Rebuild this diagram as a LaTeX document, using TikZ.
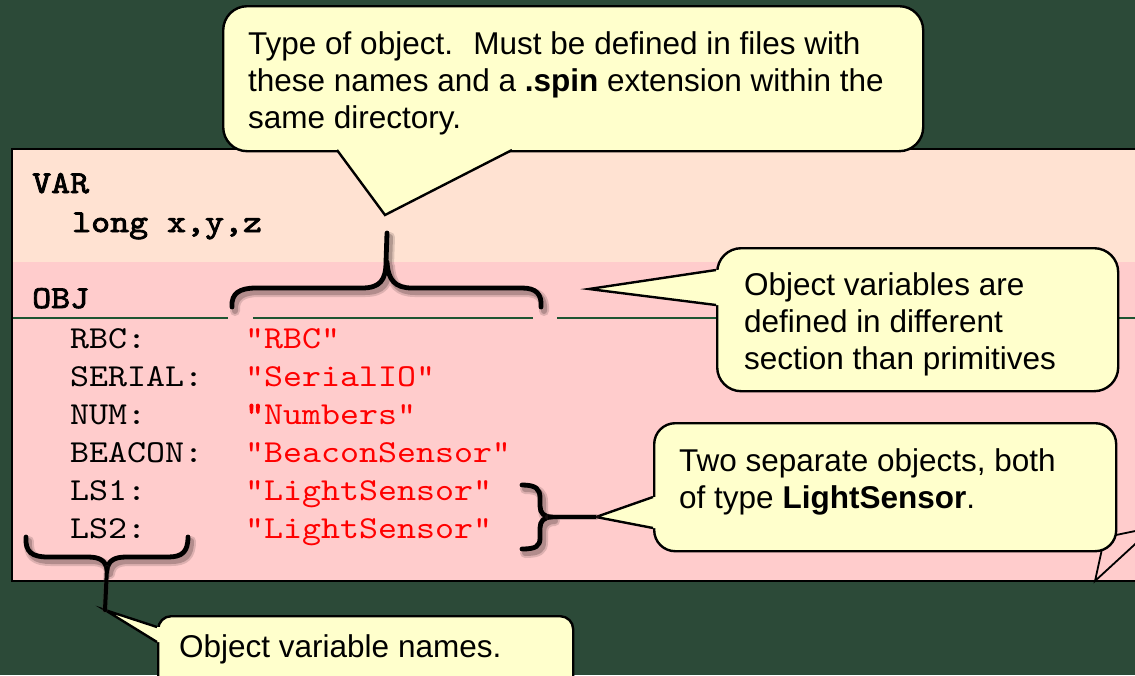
\documentclass[tikz,border=0pt]{standalone}
\usepackage{fontspec}
\setmainfont{Liberation Sans}
\newfontfamily\codefont{lmmono10-regular.otf}[FakeStretch=1.13, BoldFont=lmmono10-regular.otf, BoldFeatures={FakeBold=2.6}]
\definecolor{board}{RGB}{44,74,56}
\definecolor{peach}{RGB}{255,226,210}
\definecolor{rose}{RGB}{255,204,204}
\definecolor{note}{RGB}{255,255,204}
\definecolor{rulegreen}{RGB}{30,85,50}
\definecolor{typered}{RGB}{255,0,0}
\definecolor{braceshadow}{RGB}{70,50,50}

% brace outlines (pixel-like units, y grows downward)
\newcommand\braceTop{(232,307) .. controls (231,293) and (240,288) .. (256,288) -- (362,288) .. controls (380,288) and (386,280) .. (386,262) -- (387,233)
  (387,262) .. controls (388,280) and (395,288) .. (412,288) -- (522,288) .. controls (536,288) and (542,294) .. (541,307)}
\newcommand\braceSide{(522,485) .. controls (536,485) and (540,489) .. (540,498) -- (540,506) .. controls (540,513) and (544,517) .. (552,517)
  .. controls (544,517) and (540,521) .. (540,528) -- (540,538) .. controls (540,546) and (536,549) .. (522,549)}
\newcommand\braceLow{(26,537) .. controls (25,552) and (32,557) .. (48,557) -- (88,557) .. controls (100,557) and (106,561) .. (107,570)
  (107,570) .. controls (108,561) and (114,557) .. (126,557) -- (168,557) .. controls (182,557) and (188,552) .. (188,537)}

\begin{document}
\begin{tikzpicture}[x=1pt,y=-1pt,
  notebox/.style={draw=black, fill=note, line width=2.4pt, inner sep=0pt},
  noteedge/.style={draw=black, line width=2.4pt, line join=miter},
  notetext/.style={anchor=base west, inner sep=0pt, font=\fontsize{31.5}{37}\selectfont},
  codetext/.style={anchor=base west, inner sep=0pt, font=\codefont\fontsize{32}{38}\selectfont},
  codebold/.style={codetext, font=\codefont\bfseries\fontsize{32}{38}\selectfont},
  typetext/.style={codetext, text=typered},
  bracestroke/.style={line width=4.8pt, line cap=round, line join=round, black},
  braceshadowwide/.style={line width=10pt, line cap=round, line join=round, draw=braceshadow, opacity=0.18},
  braceshadownarrow/.style={line width=6pt, line cap=round, line join=round, draw=braceshadow, opacity=0.28},
]
% chalkboard
\fill[board] (0,0) rectangle (1135,675);
\useasboundingbox (0,0) rectangle (1135,675);

% code panel
\fill[peach] (12,149) rectangle (1145,262);
\fill[rose] (12,262) rectangle (1145,581);
\draw[line width=2.2pt] (1145,149) -- (12,149) -- (12,581) -- (1145,581);
\draw[rulegreen, line width=1.1pt] (13,318) -- (228,318) (253,318) -- (533,318) (557,318) -- (1140,318);

% VAR section
\node[codebold] (var) at (32,193) {VAR};
\node[codebold] (longs) at (72,232) {long x,y,z};

% OBJ section
\node[codebold] (obj) at (32,308) {OBJ};
\node[codetext] (n1) at (70,348) {RBC:};
\node[codetext] (n2) at (70,386) {SERIAL:};
\node[codetext] (n3) at (70,424) {NUM:};
\node[codetext] (n4) at (70,462) {BEACON:};
\node[codetext] (n5) at (70,500) {LS1:};
\node[codetext] (n6) at (70,538) {LS2:};
\node[typetext] (v1) at (245,348) {"RBC"};
\node[typetext] (v2) at (245,386) {"SerialIO"};
\node[typetext] (v3) at (245,424) {\textbf{"}Numbers"};
\node[typetext] (v4) at (245,462) {"BeaconSensor"};
\node[typetext] (v5) at (245,500) {"LightSensor"};
\node[typetext] (v6) at (245,538) {"LightSensor"};

% pointer edges of a note lying beyond the right border
\coordinate (ex1) at (1102,549);
\coordinate (ex2) at (1095,581);
\coordinate (ex3) at (1145,535);
\coordinate (ex4) at (1116,535);
\coordinate (ex5) at (1145,529);
\draw[line width=1.8pt, line join=miter] (ex1) -- (ex2) -- (ex3) (ex4) -- (ex5);

% braces
\draw[braceshadowwide, shift={(3,4)}] \braceTop;
\draw[braceshadownarrow, shift={(3,4)}] \braceTop;
\draw[bracestroke] \braceTop;
\draw[braceshadowwide, shift={(3,4)}] \braceSide;
\draw[braceshadownarrow, shift={(3,4)}] \braceSide;
\draw[bracestroke] \braceSide;
\draw[braceshadowwide, shift={(3,4)}] \braceLow;
\draw[braceshadownarrow, shift={(3,4)}] \braceLow;
\draw[bracestroke] \braceLow;
\coordinate (sidecusp) at (548,517);
\coordinate (lowcusp) at (107,568);

% note 1: object type
\node[notebox, rounded corners=24pt, minimum width=700pt, minimum height=145pt, anchor=north west] (c1) at (222,5) {};
\coordinate (c1a) at (337,150);
\coordinate (c1b) at (512,150);
\coordinate (c1t) at (385,215);
\fill[note] (337,146) -- (c1a) -- (c1t) -- (c1b) -- (512,146) -- cycle;
\draw[noteedge] (c1a) -- (c1t) -- (c1b);
\node[notetext] (c1l1) at (248,54) {Type of object.~ Must be defined in files with};
\node[notetext] (c1l2) at (248,91) {these names and a \textbf{.spin} extension within the};
\node[notetext] (c1l3) at (248,128) {same directory.};

% note 2: object section
\node[notebox, rounded corners=24pt, minimum width=401pt, minimum height=143pt, anchor=north west] (c2) at (716,247) {};
\coordinate (c2a) at (716,270);
\coordinate (c2b) at (716,305);
\coordinate (c2t) at (589,289);
\fill[note] (720,270) -- (c2a) -- (c2t) -- (c2b) -- (720,305) -- cycle;
\draw[noteedge] (c2a) -- (c2t) -- (c2b);
\node[notetext] (c2l1) at (744,295) {Object variables are};
\node[notetext] (c2l2) at (744,332) {defined in different};
\node[notetext] (c2l3) at (744,369) {section than primitives};

% note 3: two sensors
\node[notebox, rounded corners=21pt, minimum width=462pt, minimum height=128pt, anchor=north west] (c3) at (653,422) {};
\coordinate (c3a) at (653,497);
\coordinate (c3b) at (653,528);
\coordinate (c3t) at (596,517);
\fill[note] (657,497) -- (c3a) -- (c3t) -- (c3b) -- (657,528) -- cycle;
\draw[noteedge] (c3a) -- (c3t) -- (c3b);
\node[notetext] (c3l1) at (679,471) {Two separate objects, both};
\node[notetext] (c3l2) at (679,508) {of type \textbf{LightSensor}.};
\draw[braceshadownarrow, shift={(2,3)}] (sidecusp) -- (c3t);
\draw[bracestroke, line width=4pt, line cap=butt] (sidecusp) -- (c3t);

% note 4: variable names
\node[notebox, rounded corners=13pt, minimum width=415pt, minimum height=80pt, anchor=north west] (c4) at (157,615) {};
\coordinate (c4a) at (157,627);
\coordinate (c4b) at (157,642);
\coordinate (c4t) at (105,610);
\fill[note] (161,627) -- (c4a) -- (c4t) -- (c4b) -- (161,642) -- cycle;
\draw[noteedge] (c4a) -- (c4t) -- (c4b);
\node[notetext] (c4l1) at (179,657) {Object variable names.};
\draw[braceshadownarrow, shift={(2,3)}] (lowcusp) -- (c4t);
\draw[bracestroke, line width=4pt] (lowcusp) -- (c4t);
\end{tikzpicture}
\end{document}
